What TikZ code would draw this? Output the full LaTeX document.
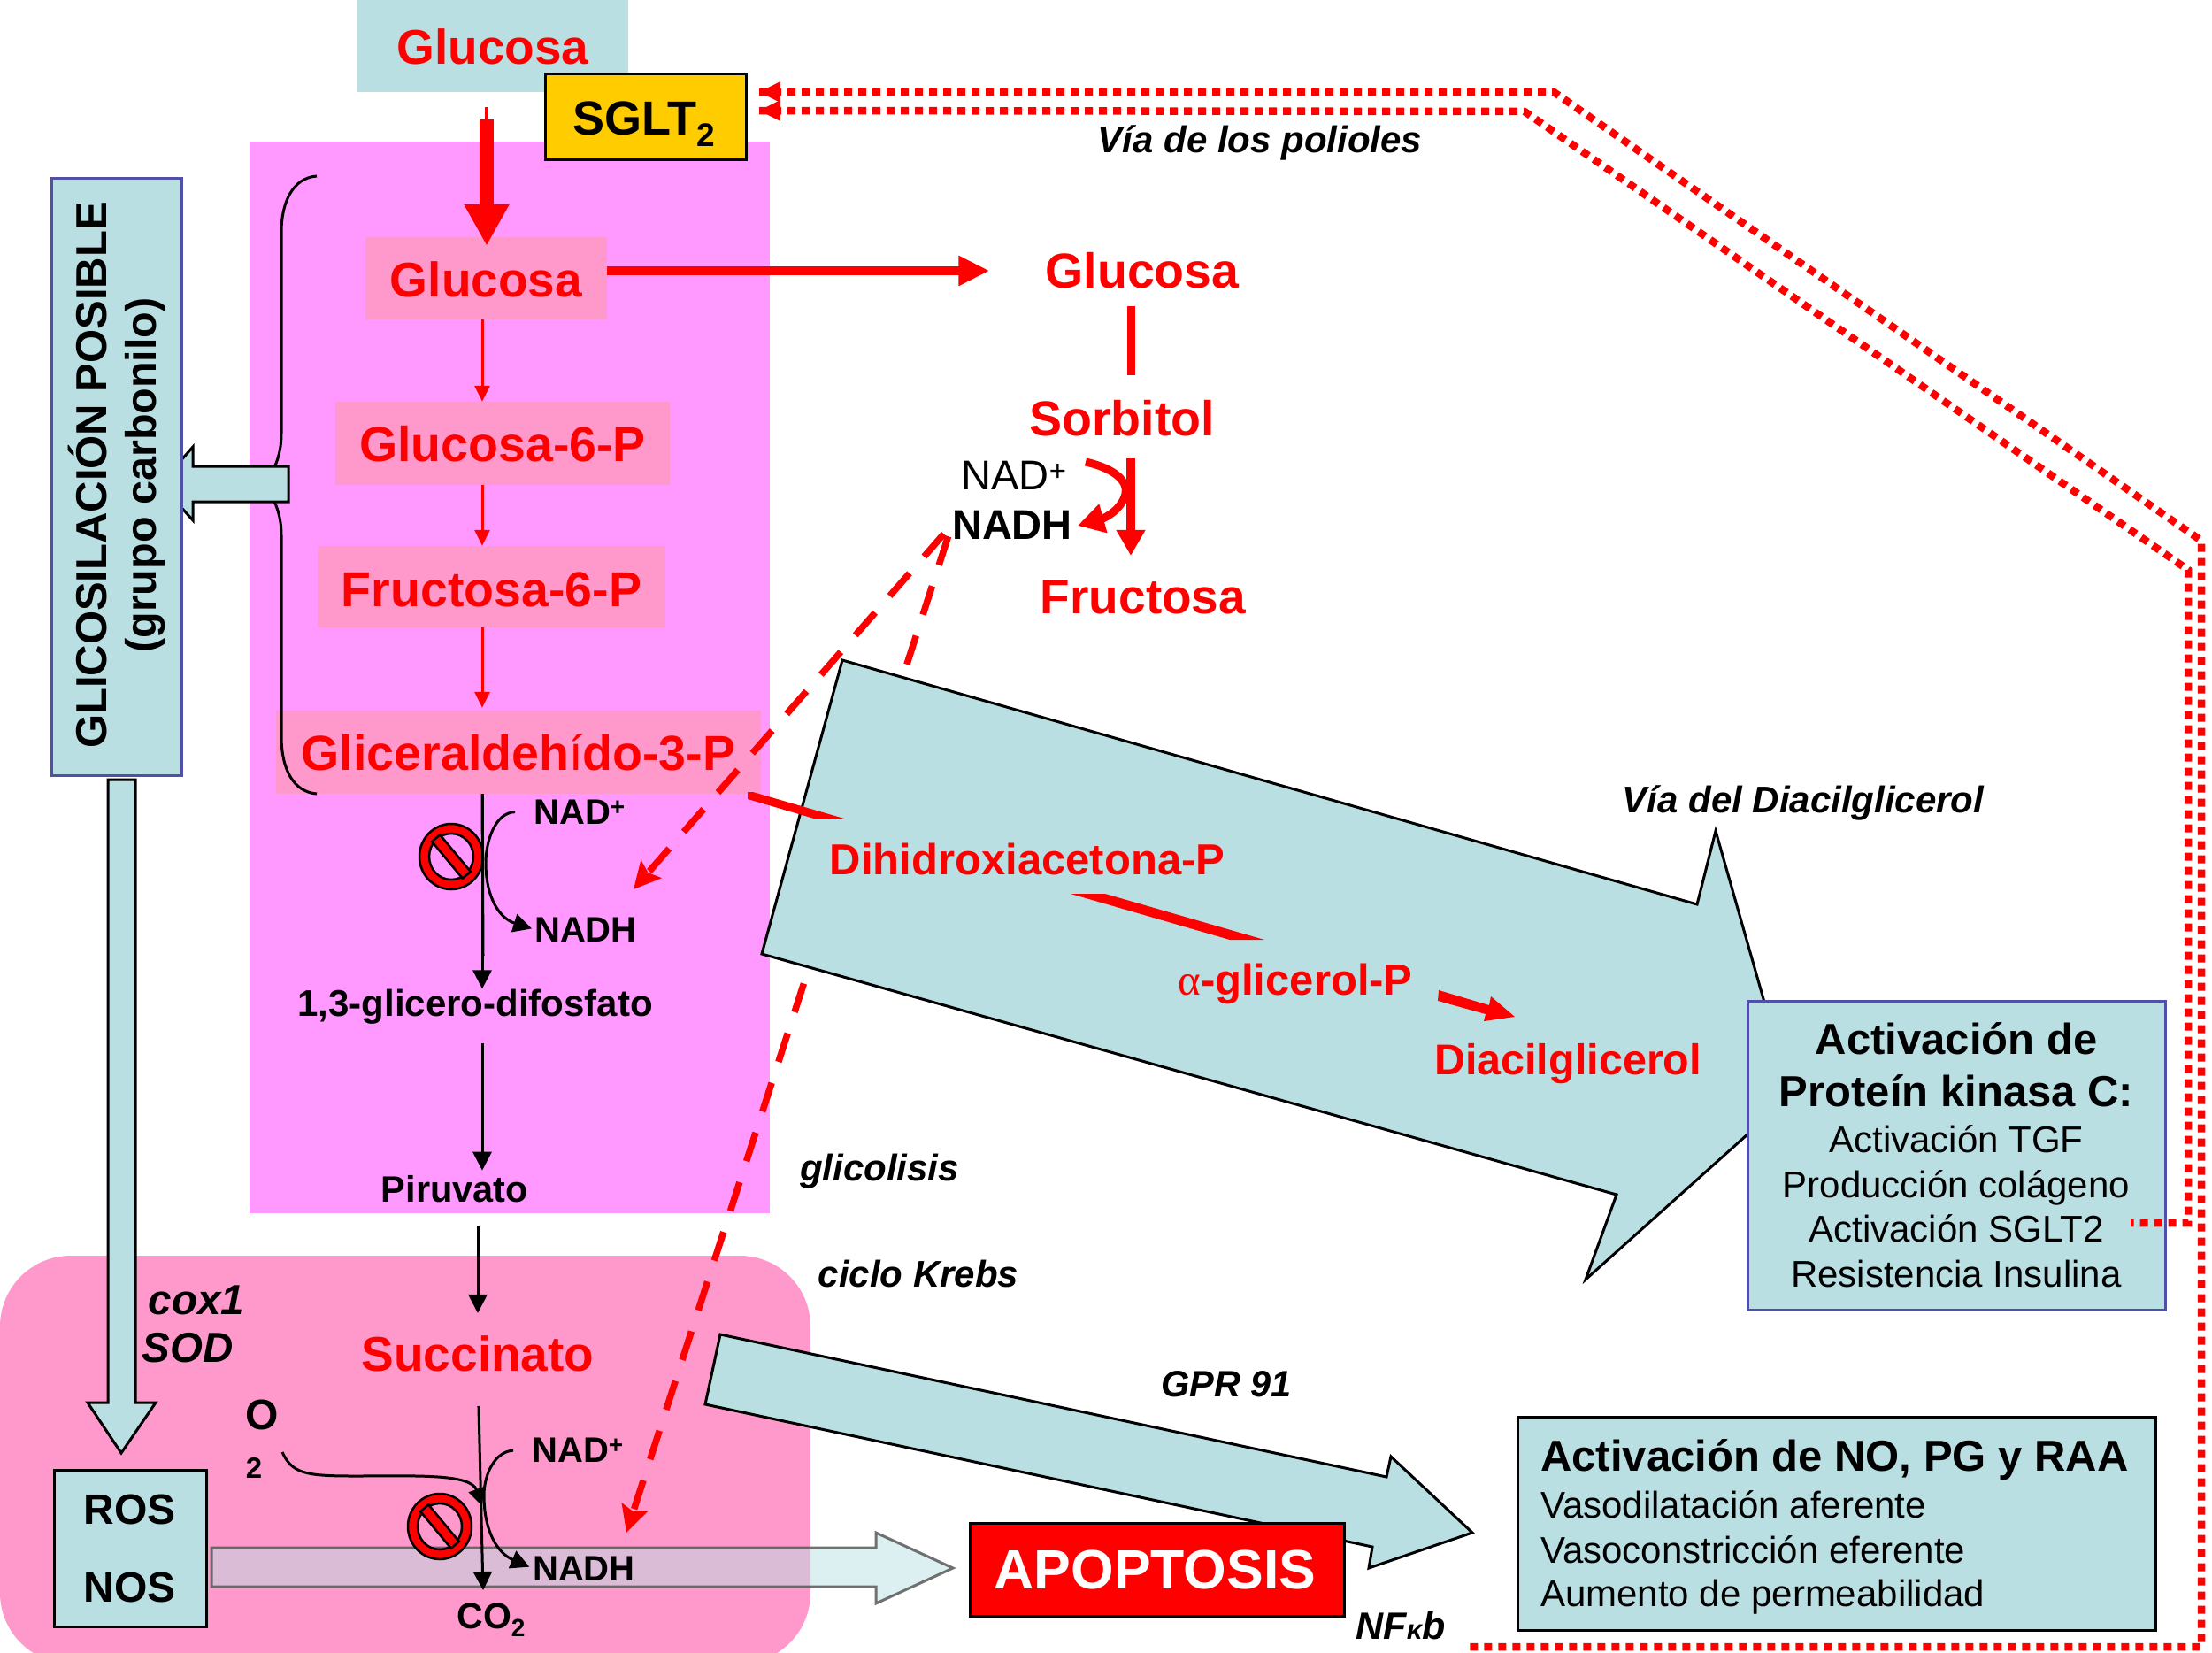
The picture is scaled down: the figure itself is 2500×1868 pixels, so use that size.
\documentclass[tikz,border=0pt]{standalone}
\usepackage{fontspec}
\setmainfont{Liberation Sans}
\newfontfamily\symfont{Liberation Serif}
\usetikzlibrary{arrows.meta,calc}
\definecolor{lb}{HTML}{B9DFE3}
\definecolor{mag}{HTML}{FF99FF}
\definecolor{rosa}{HTML}{FF99CC}
\definecolor{oro}{HTML}{FFCC00}
\definecolor{azul}{HTML}{5050A8}
\tikzset{
  txR/.style={anchor=base,inner sep=0pt,text=red,font=\bfseries\fontsize{#1}{#1}\selectfont},
  txB/.style={anchor=base,inner sep=0pt,text=black,font=\bfseries\fontsize{#1}{#1}\selectfont},
  txN/.style={anchor=base,inner sep=0pt,text=black,font=\fontsize{#1}{#1}\selectfont},
  txI/.style={anchor=base,inner sep=0pt,text=black,font=\bfseries\itshape\fontsize{#1}{#1}\selectfont},
  txL/.style={txN=#1,anchor=base west},
  panel/.style={anchor=north west,inner sep=0pt,fill=lb,draw=black,line width=3pt},
  panelAz/.style={panel,draw=azul},
  tbox/.style={anchor=base,inner sep=0pt},
  blockarrow/.style={fill=lb,draw=black,line width=3pt,line join=miter},
  thinRed/.style={draw=red,line width=3pt,-{Triangle[length=18pt,width=17pt]}},
  midRed/.style={draw=red,line width=10pt,-{Triangle[length=29pt,width=31pt]}},
  blk/.style={draw=black,line width=3pt,-{Triangle[length=21pt,width=21pt]}},
  dashRed/.style={draw=red,line width=7.5pt,dash pattern=on 34pt off 25pt,-{Stealth[length=30pt,width=30pt,inset=5pt]}},
  dotRed/.style={draw=red,line width=8.5pt,dash pattern=on 9pt off 7pt,line join=miter},
  nosign/.pic={
    \fill[red,even odd rule] (0,0) ellipse [x radius=36,y radius=37] (0,0) ellipse [x radius=25,y radius=26];
    \draw[black,line width=2.5pt] (0,0) ellipse [x radius=36,y radius=37];
    \draw[black,line width=2.5pt] (0,0) ellipse [x radius=25,y radius=26];
    \fill[red,draw=black,line width=2.5pt] (-12.7,-24.6) -- (21.9,17) -- (12.7,24.6) -- (-21.9,-17) -- cycle;
  },
}
\begin{document}
\begin{tikzpicture}[x=1pt,y=-1pt]
\useasboundingbox (0,0) rectangle (2500,1868);
% axes used to align connectors
\coordinate (axT) at (550,0);
\coordinate (axG) at (545,0);
\coordinate (axS) at (1278,0);
\coordinate (axK) at (540,0);
\coordinate (axGr) at (0,306);
\coordinate (axUp) at (0,104);
\coordinate (axLo) at (0,125);

% background zones
\fill[mag] (282,160) rectangle (870,1371);
\fill[rosa,rounded corners=80pt] (0,1419) rectangle (916,1880);

% top boxes
\node[tbox,fill=lb,minimum width=306pt,text height=73pt,text depth=31pt,txR=55] (gtop) at (557,73) {Glucosa};
\node[tbox,fill=oro,draw=black,line width=3pt,minimum width=227pt,text height=69pt,text depth=28pt,txB=54] (sglt) at (730,152) {SGLT\raisebox{-13pt}{\fontsize{37}{37}\selectfont 2}\kern5pt};

% pink labelled boxes
\node[tbox,fill=rosa,minimum width=273pt,text height=67pt,text depth=26pt,txR=55] (gbox) at (549.5,335) {Glucosa};
\node[tbox,fill=rosa,minimum width=378pt,text height=67pt,text depth=27pt,txR=55.5] (g6p) at (568,521) {Glucosa-6-P};
\node[tbox,fill=rosa,minimum width=393pt,text height=68pt,text depth=24pt,txR=55.5] (f6p) at (555.5,685) {Fructosa-6-P};
\node[tbox,fill=rosa,minimum width=548pt,text height=67pt,text depth=27pt,txR=55.5] (gli) at (586,870) {Gliceraldeh{\mdseries í}do-3-P};

% brace
\draw[black,line width=3pt] (358,199) .. controls (330,201) and (318,230) .. (318,262) -- (318,490)
  .. controls (318,515) and (310,530) .. (300,547) .. controls (310,565) and (318,580) .. (318,605) -- (318,832)
  .. controls (318,870) and (332,895) .. (358,897);

% right column texts
\node[txR=55.5] (gr) at (1291,325) {Glucosa};
\node[txR=55.5] (sorb) at (1268,492) {Sorbitol};
\node[txR=55] (fruc) at (1292,693) {Fructosa};
\node[txN=47] (nadR) at (1146,553) {NAD\textsuperscript{+}};
\node[txB=47] (nadhR) at (1144,609) {NADH};

% dashed connectors (behind the large arrows)
\coordinate (d1end) at (716,1005);
\coordinate (d2end) at (708,1732);
\draw[dashRed,shorten <=14pt] (nadhR.west) -- (d1end);
\draw[dashRed,shorten <=14pt] (nadhR.west) -- (d2end);

% large arrow
\draw[blockarrow] (952,746) -- (1918,1022) -- (1939,939) -- (2024,1238) -- (1792,1446) -- (1827,1350) -- (861,1078) -- cycle;
% GPR arrow
\draw[blockarrow] (814,1508) -- (1567,1669) -- (1572,1646) -- (1664,1732) -- (1547,1772) -- (1551,1748) -- (797,1587) -- cycle;
% left arrow
\draw[blockarrow] (326,527) -- (218,527) -- (218,505) -- (181,547) -- (218,588) -- (218,567) -- (326,567) -- cycle;
% down arrow
\draw[blockarrow] (122,881) -- (153,881) -- (153,1585) -- (176,1585) -- (137,1642) -- (99,1585) -- (122,1585) -- cycle;

% glicosilacion panel
\node[panelAz,minimum width=147pt,minimum height=675pt] (glic) at (57,200) {};
\node[txB=49,rotate=90] (glic1) at (120,537) {GLICOSILACIÓN POSIBLE};
\node[txB=48.5,rotate=90] (glic2) at (176,537) {(grupo carbonilo)};

% ROS panel
\node[panel,minimum width=172pt,minimum height=177pt] (ros) at (60,1660) {};
\node[txB=48] (rosT) at (147,1722) {ROS};
\node[txB=48] (nosT) at (147,1810) {NOS};

% translucent arrow
\draw[fill=lb,fill opacity=.5,draw=black!65,draw opacity=.85,line width=3pt,line join=miter]
  (239,1749) -- (990,1749) -- (990,1732) -- (1077,1772) -- (990,1812) -- (990,1793) -- (239,1793) -- cycle;

% glycolysis labels
\node[txB=40] (nadA) at (655,931) {NAD\textsuperscript{+}};
\node[txB=40] (nadhA) at (662,1064) {NADH};
\node[txB=42] (dif) at (537,1148) {1,3-glicero-difosfato};
\node[txB=41.5] (pir) at (514,1358) {Piruvato};
\node[txR=55] (suc) at (540,1549) {Succinato};
\node[txB=48] (oT) at (296,1615) {O};
\node[txB=33] (oS) at (287,1670) {2};
\node[txB=40] (nadB) at (653,1652) {NAD\textsuperscript{+}};
\node[txB=40] (nadhB) at (660,1786) {NADH};
\node[txB=41] (co) at (555,1840) {CO\raisebox{-9pt}{\fontsize{28}{28}\selectfont 2}};
\node[txI=47.5] (cox) at (222,1485) {cox1};
\node[txI=47.5] (sod) at (212,1539) {SOD};

% thick red connectors
\draw[draw=red,line width=4pt,shorten <=17pt] (gtop.south -| axT) -- (550,135);
\draw[draw=red,line width=16pt,-{Triangle[length=47pt,width=48pt]},shorten <=31pt,shorten >=-10pt] (gtop.south -| axT) -- (gbox.north -| axT);
\draw[draw=red,line width=10pt,-{Triangle[length=35pt,width=32pt]},shorten >=63pt] (gbox.east |- axGr) -- (gr.west |- axGr);
\draw[thinRed] (gbox.south -| axG) -- (g6p.north -| axG);
\draw[thinRed] (g6p.south -| axG) -- (f6p.north -| axG);
\draw[thinRed,shorten >=3pt] (f6p.south -| axG) -- (gli.north -| axG);
\draw[draw=red,line width=9pt,shorten <=20pt,shorten >=28pt] (gr.south -| axS) -- (sorb.north -| axS);
\draw[midRed,shorten <=25pt,shorten >=27pt] (sorb.south -| axS) -- (fruc.north -| axS);
\draw[draw=red,line width=9pt,-{Triangle[length=30pt,width=32pt]}] (1227,522) .. controls (1262,530) and (1275,545) .. (1272,558) .. controls (1268,575) and (1250,585) .. (1218,594);

% wedges
\fill[red] (845,895) -- (851,895) -- (954,925) -- (920,925) -- (845,903) -- cycle;
\fill[red] (1210,1010) -- (1249,1010) -- (1429,1062) -- (1390,1062) -- cycle;
\fill[red] (1626,1119) -- (1683,1136) -- (1685,1126) -- (1712,1149) -- (1677,1154) -- (1679,1146) -- (1625,1131) -- cycle;

% large arrow texts
\node[txR=49] (dih) at (1161,988) {Dihidroxiacetona-P};
\node[txR=49] (alf) at (1464,1124) {{\symfont\mdseries α}-glicerol-P};
\node[txR=48.5] (dia) at (1772,1214) {Diacilglicerol};

% black connectors
\draw[blk] (gli.south -| axG) -- (dif.north -| axG);
\draw[blk,shorten <=21pt,shorten >=3pt] (nadA.west) .. controls (560,918) and (549,950) .. (549,975) .. controls (549,1015) and (565,1038) .. (nadhA.west);
\draw[blk,shorten <=22pt,shorten >=5pt] (dif.south -| axG) -- (pir.north -| axG);
\draw[blk,shorten <=26pt,shorten >=25pt] (pir.south -| axK) -- (suc.north -| axK);
\path (0,0) pic at (510,968) {nosign};
\path (0,0) pic at (497,1725) {nosign};
\draw[black,line width=3pt] (gli.south -| axG) -- (546,1080);
\coordinate (cotip) at (546,1797);
\draw[blk,shorten <=40pt] (540,1549) -- (cotip);
\draw[blk,shorten <=21pt,shorten >=4pt] (nadB.west) .. controls (560,1640) and (547,1665) .. (547,1690) .. controls (547,1730) and (562,1755) .. (nadhB.west);
\draw[black,line width=3pt,-{Triangle[length=20pt,width=18pt]}] (319,1641) .. controls (330,1665) and (345,1668) .. (400,1668) .. controls (470,1668) and (532,1665) .. (545,1702);

% panels on the right
\node[panelAz,minimum width=472pt,minimum height=349pt] (act) at (1974,1130) {};
\node[txB=49] (a1) at (2211,1191) {Activación de};
\node[txB=49] (a2) at (2211,1250) {Proteín kinasa C:};
\node[txN=42] (a3) at (2211,1302) {Activación TGF};
\node[txN=42] (a4) at (2211,1353) {Producción colágeno};
\node[txN=42] (a5) at (2211,1403) {Activación SGLT2};
\node[txN=42] (a6) at (2211,1454) {Resistencia Insulina};
\node[panel,minimum width=721pt,minimum height=241pt] (noP) at (1714,1600) {};
\node[txB=49,anchor=base west] (n1) at (1741,1662) {Activación de NO, PG y RAA};
\node[txL=42] (n2) at (1741,1715) {Vasodilatación aferente};
\node[txL=42] (n3) at (1741,1766) {Vasoconstricción eferente};
\node[txL=42] (n4) at (1741,1815) {Aumento de permeabilidad};

% apoptosis
\node[tbox,fill=red,draw=black,line width=3pt,minimum width=423pt,text height=74pt,text depth=31pt,font=\bfseries\fontsize{62.5}{62.5}\selectfont,text=white] (apo) at (1307.5,1795) {APOPTOSIS\kern4pt};

% italic labels
\node[txI=42] (vp) at (1424,172) {Vía de los polioles};
\node[txI=42] (vd) at (2038,918) {Vía del Diacilglicerol};
\node[txI=42] (gl) at (994,1334) {glicolisis};
\node[txI=42] (ck) at (1038,1454) {ciclo Krebs};
\node[txI=41.5] (gpr) at (1386,1578) {GPR 91};
\node[txI=43] (nf) at (1583,1852) {NF{\fontsize{31}{31}\selectfont κ}b};

% dotted feedback lines
\coordinate (sgltOut) at (2408,1382);
\coordinate (nfEnd) at (1660,1861);
\draw[dotRed] (sglt.east |- axUp) ++(13,0) coordinate (tipU) -- (1756,104) -- (2488,611) -- (2488,1861) -- (nfEnd);
\draw[dotRed] (sglt.east |- axLo) ++(13,0) coordinate (tipL) -- (1723,126) -- (2473,644) -- (2473,1382) -- (sgltOut);
\fill[red] (tipU) -- (882,92) -- (882,116) -- cycle;
\fill[red] (tipL) -- (882,113) -- (882,137) -- cycle;
\end{tikzpicture}
\end{document}
